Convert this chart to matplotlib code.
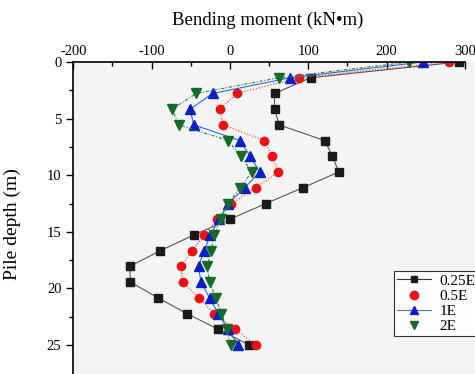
import numpy as np
import matplotlib
matplotlib.use('Agg')
import matplotlib.pyplot as plt
from matplotlib.lines import Line2D

plt.rcParams['font.family'] = ['Liberation Serif', 'DejaVu Serif']
plt.rcParams['axes.unicode_minus'] = False

# pile depth (m), 19 measuring points
depth = [0, 1.39, 2.78, 4.17, 5.56, 6.94, 8.33, 9.72, 11.11, 12.5,
         13.89, 15.28, 16.67, 18.06, 19.44, 20.83, 22.22, 23.61, 25.0]

# bending moment (kN*m)
m_025E = [292, 103, 57, 57, 63, 121, 131, 139, 93, 46,
          0, -46, -89, -128, -127, -92, -55, -15, 25]
m_05E = [280, 88, 9, -13, -9, 44, 54, 62, 33, 2,
         -16, -33, -48, -63, -60, -40, -20, 7, 33]
m_1E = [246, 77, -22, -51, -46, 13, 26, 38, 19, -2,
        -14, -25, -33, -40, -37, -26, -15, -2, 10]
m_2E = [229, 63, -43, -74, -65, -2, 14, 28, 13, -2,
        -12, -20, -24, -29, -26, -18, -11, -4, 1]

labels = ['0.25E', '0.5E', '1E', '2E']

W, H = 475, 374
fig = plt.figure(figsize=(W / 100, H / 100), dpi=100)
left, top = 73.3, 62
ax = fig.add_axes([left / W, 0, 1 - left / W, (H - top) / H])
ax.set_facecolor('#f4f4f4')

ax.plot(m_025E, depth, color='#555555', lw=0.8, ls='-',
        marker='s', ms=5.5, mfc='#1a1a1a', mec='#1a1a1a')
ax.plot(m_05E, depth, color='#ff3030', lw=0.8, ls=':',
        marker='o', ms=6, mfc='#ee1111', mec='#ee1111')
ax.plot(m_1E, depth, color='#3366dd', lw=0.8, ls='-',
        marker='^', ms=6.5, mfc='#0a1ec8', mec='#0a1ec8')
ax.plot(m_2E, depth, color='#2a8a3a', lw=0.8, ls=(0, (3, 1.5, 1, 1.5)),
        marker='v', ms=6.5, mfc='#166b2a', mec='#166b2a')

x_per_px = 100 / 78.3
ax.set_xlim(-200, -200 + (W - left) * x_per_px)
ax.set_ylim(0 + (H - top) / 11.32, 0)

ax.xaxis.tick_top()
ax.xaxis.set_label_position('top')
ax.set_xticks([-200, -100, 0, 100, 200, 300])
ax.set_xticks(np.arange(-200, 301, 50), minor=True)
ax.set_yticks([0, 5, 10, 15, 20, 25])
ax.set_yticks(np.arange(0, 27.5, 2.5), minor=True)
ax.tick_params(axis='x', which='major', direction='in', length=5, width=1, labelsize=10.5, pad=3)
ax.tick_params(axis='x', which='minor', direction='in', length=3, width=1)
ax.tick_params(axis='y', which='major', direction='out', length=5, width=1, labelsize=10.5)
ax.tick_params(axis='y', which='minor', direction='out', length=3, width=1)

for s in ['right', 'bottom']:
    ax.spines[s].set_visible(False)
ax.spines['top'].set_bounds(-200, 300)
ax.spines['top'].set_linewidth(1.2)
ax.spines['left'].set_linewidth(1.2)

ax.set_xlabel('Bending moment (kN\u2022m)', fontsize=13.5)
ax.xaxis.set_label_coords((268 - left) / (W - left), 1 + 37 / (H - top))
ax.set_ylabel('Pile depth (m)', fontsize=14)
ax.yaxis.set_label_coords(-(left - 21) / (W - left), 1 - (224 - top) / (H - top))

handles = [
    Line2D([], [], color='#333333', lw=0.8, marker='s', ms=5, mfc='#1a1a1a', mec='#1a1a1a'),
    Line2D([], [], ls='none', marker='o', ms=6, mfc='#ee1111', mec='#ee1111'),
    Line2D([], [], color='#4477dd', lw=0.8, marker='^', ms=6, mfc='#0a1ec8', mec='#0a1ec8'),
    Line2D([], [], ls='none', marker='v', ms=6, mfc='#166b2a', mec='#166b2a'),
]
leg = fig.legend(handles, labels, loc='upper left', bbox_to_anchor=(394 / W, 1 - 271 / H),
                 fontsize=11, frameon=True, fancybox=False, handlelength=2.2,
                 handletextpad=0.6, labelspacing=0.1, borderpad=0.2, borderaxespad=0)
leg.get_frame().set_edgecolor('black')
leg.get_frame().set_linewidth(0.8)
leg.get_frame().set_facecolor('white')

fig.savefig('out.png', dpi=100)
